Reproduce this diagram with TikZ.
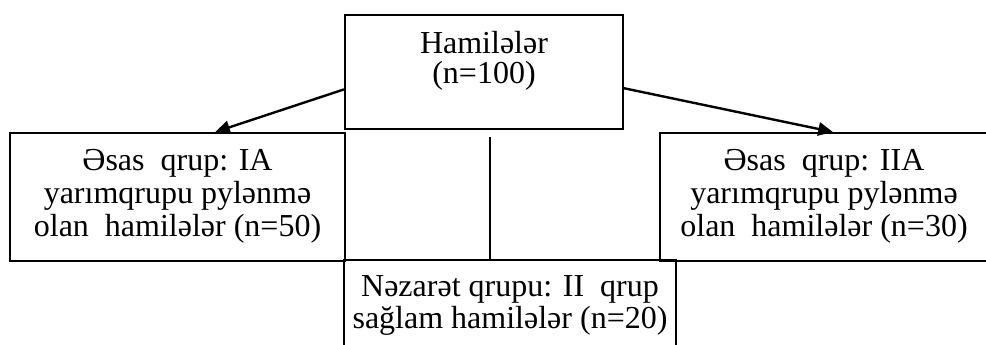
\documentclass[tikz,border=0pt]{standalone}
\usepackage{fontspec}
\setmainfont{Liberation Serif}
\usetikzlibrary{arrows.meta,calc}

\begin{document}
\begin{tikzpicture}[x=0.75pt,y=-0.75pt,
  box/.style={draw=black,line width=1.5pt,rectangle,inner sep=0pt,fill=none},
  txt/.style={anchor=base,inner sep=0pt,font=\fontsize{24pt}{27pt}\selectfont},
  arr/.style={draw=black,line width=1.8pt,-{Triangle[length=11pt,width=10pt]}},
  link/.style={draw=black,line width=1.8pt}]
  \useasboundingbox (0,0) rectangle (986,345);
  \fill[white] (0,0) rectangle (986,345);
  \clip (0,0) rectangle (986,345);

  % group boxes
  \node[box,minimum width=208.5pt,minimum height=85.5pt] (top) at (484,72) {};
  \node[box,minimum width=251.25pt,minimum height=96pt] (left) at (177.5,197) {};
  \node[box,minimum width=246pt,minimum height=96pt] (right) at (824,197) {};
  \node[box,minimum width=249pt,minimum height=96pt] (bottom) at (510,324) {};

  % box texts
  \node[txt] (top1) at (484,54) {Hamilələr};
  \node[txt] (top2) at (484,84) {(n=100)};

  \node[txt] (left1) at (177.5,171) {Əsas\ \ qrup: IA};
  \node[txt] (left2) at (177.5,204) {yarımqrupu pylənmə};
  \node[txt] (left3) at (177.5,237) {olan\ \ hamilələr (n=50)};

  \node[txt] (right1) at (824,171) {Əsas\ \ qrup: IIA};
  \node[txt] (right2) at (824,204) {yarımqrupu pylənmə};
  \node[txt] (right3) at (824,237) {olan\ \ hamilələr (n=30)};

  \node[txt] (bottom1) at (510,297) {Nəzarət qrupu: II\ \ qrup};
  \node[txt] (bottom2) at (510,329) {sağlam hamilələr (n=20)};

  % connectors
  \draw[arr] ($(top.south west)!0.35!(top.north west)$) -- ($(left.north west)!0.612!(left.north east)$);
  \draw[arr] ($(top.south east)!0.36!(top.north east)$) -- ($(right.north west)!0.527!(right.north east)$);
  \coordinate (vtop) at (490,137);
  \draw[link] (vtop) -- (vtop |- bottom.north);
\end{tikzpicture}
\end{document}
